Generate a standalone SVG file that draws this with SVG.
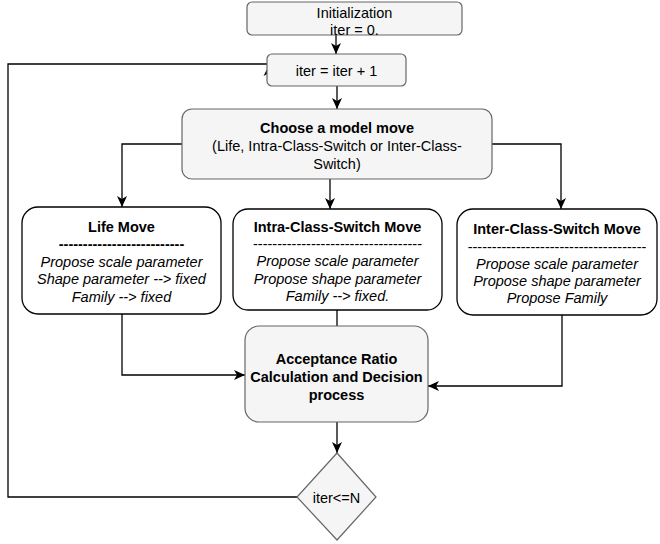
<svg xmlns="http://www.w3.org/2000/svg" width="660" height="544" viewBox="0 0 660 544">
<defs>
<marker id="arr" markerUnits="userSpaceOnUse" markerWidth="13" markerHeight="12" refX="11" refY="5.5" orient="auto">
<path d="M0,0.5 L11,5.5 L0,10.5 L3,5.5 Z" fill="#000"/>
</marker>
<style>
.g{fill:#f5f5f5;stroke:#666666;stroke-width:1.2}
.w{fill:#ffffff;stroke:#000000;stroke-width:1.3}
.c{fill:none;stroke:#000000;stroke-width:1.3}
.a{marker-end:url(#arr)}
text{font-family:"Liberation Sans",Arial,sans-serif;font-size:14.5px;fill:#000;text-anchor:middle}
.b{font-weight:bold}
.i{font-style:italic}
</style>
</defs>
<rect width="660" height="544" fill="#ffffff"/>
<g id="connectors">
<path class="c a" d="M336,35 V54"/>
<path class="c a" d="M337,86 V109"/>
<path class="c a" d="M182,144 H122 V207"/>
<path class="c a" d="M492,144 H561 V209"/>
<path class="c a" d="M330,179 V209"/>
<path class="c" d="M337,310 V326"/>
<path class="c a" d="M122,314 V375 H245"/>
<path class="c a" d="M562,315 V386 H428"/>
<path class="c a" d="M337,422 V453"/>
<path class="c" d="M297,497 H8 V64 H268"/>
<polygon points="269,65 274.5,76 269,73 263.5,76" fill="#000"/>
</g>
<g id="init">
<rect class="g" x="247" y="2" width="215" height="33" rx="5"/>
<text x="354.5" y="18">Initialization</text>
<text x="354.5" y="34.5">iter = 0.</text>
</g>
<g id="iter">
<rect class="g" x="267" y="54" width="139" height="32" rx="5"/>
<text x="336.5" y="76">iter = iter + 1</text>
</g>
<g id="choose">
<rect class="g" x="182" y="109" width="310" height="70" rx="10"/>
<text class="b" x="337" y="133">Choose a model move</text>
<text x="337" y="151">(Life, Intra-Class-Switch or Inter-Class-</text>
<text x="337" y="168.5">Switch)</text>
</g>
<g id="life">
<rect class="w" x="22" y="207" width="199" height="107" rx="16"/>
<text class="b" x="121.5" y="231.5">Life Move</text>
<text class="b" x="121.5" y="249">--------------------------</text>
<text class="i" x="121.5" y="266.5">Propose scale parameter</text>
<text class="i" x="121.5" y="284">Shape parameter --&gt; fixed</text>
<text class="i" x="121.5" y="301.5">Family --&gt; fixed</text>
</g>
<g id="intra">
<rect class="w" x="233" y="209" width="209" height="101" rx="15"/>
<text class="b" x="337.5" y="231.5">Intra-Class-Switch Move</text>
<text x="337.5" y="249">-----------------------------------</text>
<text class="i" x="337.5" y="266">Propose scale parameter</text>
<text class="i" x="337.5" y="283.5">Propose shape parameter</text>
<text class="i" x="337.5" y="301">Family --&gt; fixed.</text>
</g>
<g id="inter">
<rect class="w" x="457" y="209" width="200" height="106" rx="16"/>
<text class="b" x="557" y="234">Inter-Class-Switch Move</text>
<text x="557" y="251.5">-------------------------------------</text>
<text class="i" x="557" y="269">Propose scale parameter</text>
<text class="i" x="557" y="286">Propose shape parameter</text>
<text class="i" x="557" y="303">Propose Family</text>
</g>
<g id="acceptance">
<rect class="g" x="245" y="326" width="183" height="96" rx="14"/>
<text class="b" x="336.5" y="364">Acceptance Ratio</text>
<text class="b" x="336.5" y="382">Calculation and Decision</text>
<text class="b" x="336.5" y="399.5">process</text>
</g>
<g id="decision">
<polygon class="g" points="337,453 376,497 337,540 297,497"/>
<text x="336.5" y="503">iter&lt;=N</text>
</g>
</svg>
